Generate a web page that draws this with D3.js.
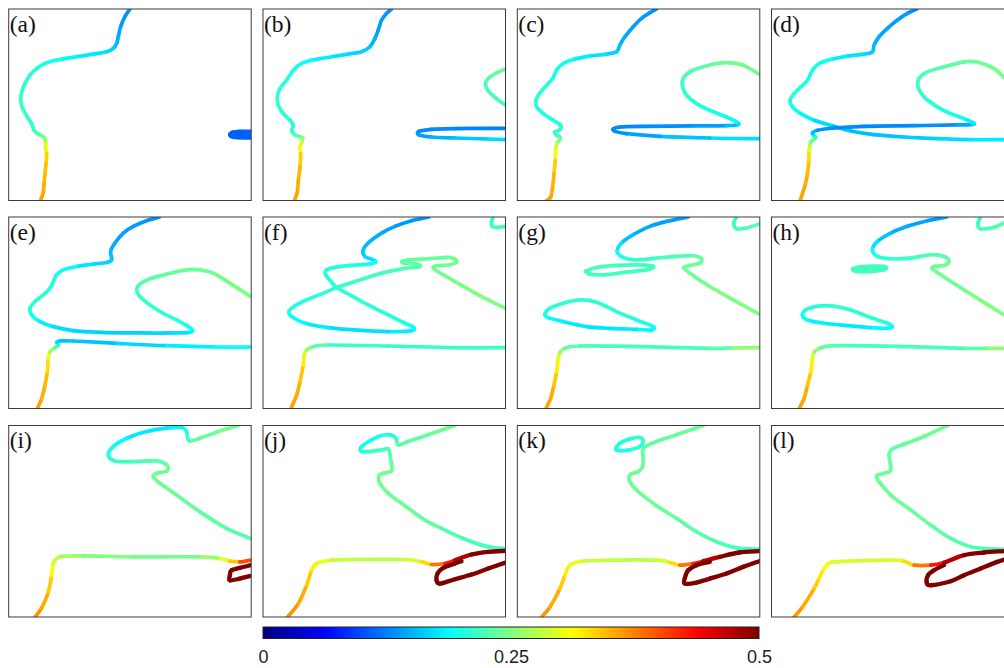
<!DOCTYPE html>
<html><head><meta charset="utf-8">
<script src="https://cdn.jsdelivr.net/npm/d3@7"></script>
<style>
html,body{margin:0;padding:0;background:#fff;}
svg{display:block;}
</style></head><body>
<svg id="chart" width="1004" height="668"></svg>
<script>
// every point is [x, y, value]; x runs 0..728 and y 0..573 (top down) inside a panel
const a_main = [[364,0,.135],[349,23,.135],[336,53,.14],[329,83,.145],[324,103,.15],[314,118,.16],[294,128,.17],[254,135,.175],[204,143,.18],[154,151,.19],[114,161,.2],[84,178,.205],[64,198,.21],[49,223,.21],[39,248,.21],[36,273,.215],[42,298,.215],[56,323,.21],[69,343,.21],[76,363,.215],[89,375,.22],[102,381,.235],[109,388,.25],[111,403,.28],[111,418,.31],[114,433,.33],[112,463,.34],[109,493,.345],[106,523,.35],[104,548,.355],[96,573,.36]];
const a_blob = [[728,366,.11],[694,366,.11],[672,369,.11],[664,376,.11],[672,383,.11],[694,385,.11],[728,386,.11]];

const b_main = [[386,0,.135],[371,13,.135],[356,33,.14],[346,63,.14],[336,88,.145],[321,113,.155],[296,128,.165],[256,135,.17],[206,143,.175],[146,153,.185],[116,163,.195],[91,183,.2],[71,213,.205],[51,238,.21],[43,263,.21],[46,288,.215],[61,313,.21],[81,333,.205],[91,348,.205],[86,363,.21],[94,375,.215],[106,381,.23],[119,386,.245],[116,398,.27],[111,413,.3],[113,433,.33],[111,473,.345],[106,513,.35],[103,548,.355],[94,573,.36]];
const b_hairpin = [[728,357,.125],[676,357,.125],[576,358,.13],[506,360,.13],[471,365,.13],[464,371,.135],[471,378,.14],[506,383,.145],[576,386,.155],[676,389,.165],[728,391,.175]];
const b_arc = [[728,180,.24],[701,191,.235],[676,208,.23],[668,225,.225],[676,245,.22],[701,268,.22],[728,288,.22]];

const c_main = [[418,0,.13],[398,11,.135],[373,28,.14],[348,53,.14],[323,83,.145],[308,108,.15],[298,128,.16],[268,135,.17],[218,141,.175],[168,151,.185],[138,163,.195],[118,183,.2],[106,208,.2],[88,228,.205],[68,251,.21],[56,273,.21],[58,293,.205],[78,313,.2],[108,333,.2],[130,348,.205],[128,361,.21],[113,368,.21],[116,376,.215],[128,383,.225],[126,393,.24],[118,405,.265],[115,423,.3],[114,453,.33],[110,493,.345],[106,533,.35],[100,563,.355],[88,573,.36]];
const c_hairpin = [[726,388,.18],[578,386,.165],[428,381,.15],[328,373,.135],[293,366,.13],[288,359,.13],[308,353,.13],[378,351,.13],[528,350,.135],[628,349,.145],[663,346,.165],[658,338,.18],[628,323,.195],[578,303,.2],[538,283,.205],[508,258,.21],[496,233,.215],[498,208,.22],[518,188,.225],[558,173,.23],[598,163,.235],[638,161,.24],[678,168,.24],[726,195,.245]];

const d_upper = [[436,0,.13],[408,13,.135],[378,33,.14],[348,58,.14],[323,83,.145],[308,108,.15],[303,128,.16],[278,135,.17],[228,141,.175],[178,151,.185],[143,163,.195],[123,183,.2],[108,213,.2],[88,233,.205],[68,253,.205],[56,273,.205],[63,293,.2],[88,313,.19],[128,333,.175],[188,351,.165],[238,365,.155],[308,376,.155],[398,383,.16],[498,388,.165],[598,391,.175],[698,391,.18],[728,391,.185]];
const d_lower = [[86,573,.36],[100,530,.355],[108,493,.35],[112,453,.34],[113,423,.32],[115,413,.29],[118,398,.255],[133,385,.225],[126,378,.195],[123,371,.165],[138,363,.14],[188,356,.13],[278,351,.13],[428,349,.13],[558,347,.135],[603,345,.155],[606,341,.17],[578,328,.19],[538,313,.2],[498,293,.205],[458,263,.21],[440,233,.215],[443,208,.22],[468,188,.225],[518,173,.23],[578,158,.235],[618,159,.24],[658,173,.24],[678,185,.245],[698,205,.245],[728,223,.25]];

const e_upper = [[452,0,.13],[414,11,.135],[374,28,.14],[344,48,.14],[319,78,.145],[306,103,.15],[309,128,.16],[294,136,.165],[254,141,.17],[204,148,.18],[164,158,.19],[144,173,.2],[134,193,.205],[124,213,.205],[104,233,.205],[79,253,.21],[64,273,.21],[69,293,.2],[94,313,.185],[134,328,.175],[194,340,.17],[274,345,.165],[394,347,.165],[494,347,.17],[544,345,.175],[552,339,.185],[539,328,.195],[504,308,.205],[464,288,.21],[424,263,.21],[394,238,.215],[384,218,.22],[394,201,.225],[424,185,.23],[474,171,.235],[534,158,.24],[574,158,.24],[614,168,.24],[664,198,.245],[726,238,.25]];
const e_lower = [[86,573,.36],[99,543,.355],[109,503,.35],[116,463,.34],[119,423,.32],[124,403,.28],[139,391,.245],[149,383,.21],[144,375,.18],[154,371,.16],[194,371,.155],[324,378,.16],[474,385,.175],[624,389,.185],[726,389,.19]];

const f_upper = [[498,0,.135],[446,11,.135],[396,28,.14],[356,48,.145],[321,73,.15],[301,98,.155],[306,118,.165],[331,128,.175],[338,135,.185],[316,141,.195],[266,145,.2],[216,151,.205],[191,158,.205],[188,173,.205],[206,195,.205],[221,211,.21],[266,236,.21],[316,263,.21],[376,293,.205],[426,318,.2],[452,330,.19],[446,340,.185],[376,343,.175],[276,338,.17],[196,331,.175],[126,318,.18],[86,298,.195],[78,283,.2],[93,268,.205],[126,250,.205],[176,230,.21],[221,211,.21],[276,193,.215],[356,168,.22],[416,155,.225],[466,150,.23],[471,144,.23],[456,140,.23],[421,138,.23],[418,133,.23],[436,129,.235],[496,125,.235],[556,121,.24],[576,126,.24],[581,135,.24],[561,143,.24],[521,146,.24],[511,151,.24],[521,161,.24],[576,193,.245],[656,238,.25],[728,273,.25]];
const f_lower = [[84,573,.36],[101,533,.355],[111,493,.35],[121,443,.33],[124,413,.31],[131,398,.275],[151,388,.24],[196,383,.22],[376,386,.21],[576,391,.215],[728,391,.22]];
const f_corner = [[691,0,.205],[686,13,.21],[688,28,.215],[706,31,.22],[728,28,.22]];

const g_upper = [[513,0,.135],[458,11,.14],[398,28,.145],[348,53,.15],[313,78,.165],[300,103,.185],[318,121,.205],[358,128,.21],[418,123,.22],[478,118,.225],[528,116,.23],[553,125,.235],[548,138,.24],[518,145,.24],[500,151,.24],[518,168,.24],[578,208,.245],[658,253,.25],[726,291,.25]];
const g_loop1 = [[208,161,.22],[238,151,.22],[298,145,.22],[358,143,.22],[403,146,.22],[408,151,.22],[388,158,.22],[328,165,.22],[258,173,.22],[218,171,.22],[206,163,.22],[208,161,.22]];
const g_loop2 = [[83,291,.195],[98,273,.205],[138,258,.21],[188,248,.21],[238,255,.21],[298,283,.21],[358,308,.205],[408,328,.2],[403,338,.19],[358,336,.18],[278,333,.175],[208,328,.175],[138,313,.18],[93,301,.19],[83,291,.195]];
const g_corner = [[658,0,.21],[650,18,.21],[658,35,.22],[688,33,.225],[726,21,.23]];
const g_lower = [[86,573,.36],[100,543,.355],[110,503,.35],[118,463,.33],[123,423,.31],[128,405,.275],[143,393,.24],[188,386,.225],[378,388,.22],[578,393,.225],[650,392,.24],[726,391,.275]];

const h_upper = [[526,0,.135],[468,11,.14],[408,28,.145],[358,48,.15],[318,73,.165],[303,98,.185],[318,118,.205],[358,125,.21],[418,123,.22],[478,113,.225],[518,118,.23],[533,133,.235],[518,145,.24],[488,148,.24],[483,155,.24],[508,173,.24],[578,218,.245],[658,268,.25],[698,293,.25],[728,308,.25]];
const h_blob = [[243,156,.22],[268,149,.22],[318,147,.22],[343,150,.22],[338,158,.22],[298,163,.22],[258,163,.22],[243,156,.22]];
const h_loop2 = [[93,293,.195],[108,275,.205],[148,266,.21],[188,267,.21],[238,278,.21],[298,301,.21],[348,318,.205],[363,328,.195],[348,333,.19],[298,331,.18],[228,325,.175],[158,318,.18],[108,308,.185],[93,293,.195]];
const h_corner = [[628,0,.21],[620,18,.21],[626,35,.22],[668,31,.225],[698,18,.23],[728,11,.235]];
const h_lower = [[83,573,.36],[98,543,.355],[108,503,.35],[118,463,.33],[123,423,.31],[128,405,.275],[148,391,.24],[198,385,.225],[378,387,.22],[578,393,.225],[650,393,.24],[728,393,.275]];

const i_upper = [[689,0,.245],[624,20,.24],[574,38,.235],[544,46,.23],[537,38,.22],[534,18,.205],[519,6,.19],[474,8,.18],[414,18,.175],[354,38,.18],[314,63,.19],[299,88,.2],[319,106,.21],[374,108,.22],[444,106,.23],[474,118,.235],[476,136,.24],[444,143,.24],[434,153,.24],[454,173,.24],[504,208,.24],[574,258,.235],[654,308,.23],[726,338,.225]];
const i_lower = [[79,573,.37],[99,546,.36],[119,498,.345],[129,448,.33],[134,413,.3],[154,393,.275],[224,390,.255],[374,393,.245],[574,393,.245],[634,398,.275],[664,406,.32],[694,408,.36],[726,403,.44]];
const i_red = [[726,418,.5],[694,426,.5],[669,433,.5],[664,448,.5],[664,463,.5],[694,458,.5],[726,450,.5]];

const j_upper = [[576,0,.24],[496,28,.235],[436,48,.23],[406,58,.23],[401,43,.22],[394,33,.21],[381,28,.205],[356,30,.2],[326,43,.195],[296,63,.195],[294,76,.2],[316,78,.21],[356,73,.22],[376,70,.225],[381,88,.23],[386,118,.235],[386,136,.24],[361,143,.24],[348,150,.24],[351,173,.24],[376,203,.24],[426,240,.24],[486,283,.235],[536,308,.23],[596,336,.225],[656,358,.22],[696,366,.22],[728,368,.22]];
const j_lower = [[74,573,.37],[106,533,.36],[131,478,.345],[146,433,.33],[161,413,.31],[206,403,.29],[276,401,.28],[426,401,.28],[476,408,.3],[506,416,.36],[546,413,.4],[576,403,.45],[626,386,.5],[676,378,.5],[728,375,.5]];
const j_red = [[728,410,.5],[676,428,.5],[626,446,.5],[576,460,.5],[531,473,.5],[521,463,.5],[524,443,.5],[541,426,.5],[576,413,.5],[596,406,.5]];

const k_upper = [[558,0,.24],[478,28,.235],[418,48,.235],[383,63,.23],[376,78,.23],[378,98,.235],[376,123,.24],[363,138,.24],[340,146,.24],[336,163,.24],[358,193,.24],[418,240,.24],[478,278,.235],[538,318,.23],[598,348,.225],[658,366,.22],[726,370,.22]];
const k_loop = [[296,70,.2],[308,53,.2],[338,40,.205],[368,36,.21],[378,46,.215],[368,63,.21],[338,73,.205],[308,75,.2],[296,70,.2]];
const k_lower = [[73,573,.37],[98,543,.36],[128,488,.345],[143,448,.33],[158,418,.31],[198,406,.29],[278,403,.28],[418,403,.28],[458,410,.3],[488,418,.36],[528,413,.4],[558,406,.45],[608,393,.5],[666,380,.5],[726,376,.5]];
const k_red = [[726,406,.5],[678,423,.5],[628,443,.5],[578,458,.5],[538,470,.5],[503,473,.5],[503,456,.5],[513,433,.5],[538,418,.5],[578,408,.5]];

const l_upper = [[528,0,.24],[458,33,.24],[398,56,.235],[363,70,.235],[353,88,.235],[358,133,.24],[338,143,.24],[316,150,.24],[323,168,.24],[358,208,.24],[418,253,.24],[478,298,.235],[538,338,.23],[598,363,.225],[668,370,.22],[728,370,.22]];
const l_lower = [[68,573,.37],[93,543,.36],[128,488,.345],[143,458,.33],[158,428,.315],[178,410,.3],[238,406,.29],[358,403,.29],[398,406,.3],[428,418,.36],[478,418,.4],[518,410,.45],[578,388,.5],[638,380,.5],[698,376,.5],[728,374,.5]];
const l_red = [[728,393,.5],[678,408,.5],[628,428,.5],[578,448,.5],[538,466,.5],[478,478,.5],[466,470,.5],[470,448,.5],[488,433,.5],[518,418,.5]];

const panelLabels = ['(a)','(b)','(c)','(d)','(e)','(f)','(g)','(h)','(i)','(j)','(k)','(l)'];
const panelCurves = [
  [a_main, a_blob],
  [b_main, b_hairpin, b_arc],
  [c_main, c_hairpin],
  [d_upper, d_lower],
  [e_upper, e_lower],
  [f_upper, f_lower, f_corner],
  [g_upper, g_loop1, g_loop2, g_corner, g_lower],
  [h_upper, h_blob, h_loop2, h_corner, h_lower],
  [i_upper, i_lower, i_red],
  [j_upper, j_lower, j_red],
  [k_upper, k_loop, k_lower, k_red],
  [l_upper, l_lower, l_red]
];
// thin loops that show up as solid blobs
const solidCurves = [a_blob, h_blob];
const colorTicks = [0, 0.25, 0.5];
const colorTickLabels = ['0', '0.25', '0.5'];

const colX = [8.7, 263, 517.3, 771.5];
const rowY = [9, 217, 425.5];
const panelW = 242.5, panelH = 191.5;

const svg = d3.select('#chart');
const defs = svg.append('defs');

// matlab style jet
function jet(t) {
  const c = v => Math.max(0, Math.min(1, v));
  const r = c(Math.min(4 * t - 1.5, -4 * t + 4.5));
  const g = c(Math.min(4 * t - 0.5, -4 * t + 3.5));
  const b = c(Math.min(4 * t + 0.5, -4 * t + 2.5));
  return d3.rgb(r * 255, g * 255, b * 255).formatHex();
}
const color = d3.scaleSequential(jet).domain([0, 0.5]);

const x = d3.scaleLinear().domain([0, 728]).range([0, panelW]);
const y = d3.scaleLinear().domain([0, 573]).range([0, panelH]);

// split a curve into short smooth pieces so every piece gets its own colour
function pieces(pts) {
  const P = pts.map(p => [x(p[0]), y(p[1]), p[2]]);
  const n = P.length;
  const closed = n > 3 && pts[0][0] === pts[n - 1][0] && pts[0][1] === pts[n - 1][1];
  const get = i => {
    if (closed) { const m = n - 1; return P[((i % m) + m) % m]; }
    return P[Math.max(0, Math.min(n - 1, i))];
  };
  const out = [];
  for (let i = 0; i < n - 1; i++) {
    const p0 = get(i - 1), p1 = P[i], p2 = P[i + 1], p3 = get(i + 2);
    const c1 = [p1[0] + (p2[0] - p0[0]) / 6, p1[1] + (p2[1] - p0[1]) / 6];
    const c2 = [p2[0] - (p3[0] - p1[0]) / 6, p2[1] - (p3[1] - p1[1]) / 6];
    out.push({
      d: `M${p1[0]},${p1[1]}C${c1[0]},${c1[1]} ${c2[0]},${c2[1]} ${p2[0]},${p2[1]}`,
      v: (p1[2] + p2[2]) / 2
    });
  }
  return out;
}

panelLabels.forEach((label, k) => {
  const px = colX[k % 4], py = rowY[Math.floor(k / 4)];
  const g = svg.append('g').attr('transform', `translate(${px},${py})`);

  defs.append('clipPath').attr('id', 'clip' + k)
    .append('rect').attr('width', panelW).attr('height', panelH);

  const plot = g.append('g').attr('clip-path', `url(#clip${k})`);
  panelCurves[k].forEach(curve => {
    if (solidCurves.includes(curve)) {
      plot.append('path')
        .attr('d', d3.line().x(p => x(p[0])).y(p => y(p[1])).curve(d3.curveCatmullRom)(curve))
        .attr('fill', color(curve[0][2]))
        .attr('stroke', 'none');
    }
    plot.append('g').selectAll('path')
      .data(pieces(curve))
      .join('path')
      .attr('d', d => d.d)
      .attr('fill', 'none')
      .attr('stroke', d => color(d.v))
      .attr('stroke-width', d => d.v >= 0.47 ? 4.3 : 3.7)
      .attr('stroke-linecap', 'round')
      .attr('stroke-linejoin', 'round');
  });

  g.append('rect')
    .attr('width', panelW).attr('height', panelH)
    .attr('fill', 'none').attr('stroke', '#3a3a3a').attr('stroke-width', 1);

  g.append('text')
    .attr('x', 1).attr('y', 22.5)
    .attr('font-family', '"Liberation Serif", "DejaVu Serif", serif')
    .attr('font-size', 23.5)
    .attr('fill', '#111')
    .text(label);
});

// ── colorbar ──────────────────────────────
const cbX = d3.scaleLinear().domain([0, 0.5]).range([263, 759]);
const cbY = 627, cbH = 11.5;
const grad = defs.append('linearGradient').attr('id', 'jetgrad')
  .attr('x1', '0%').attr('x2', '100%').attr('y1', '0%').attr('y2', '0%');
d3.range(0, 1.0001, 0.02).forEach(t => {
  grad.append('stop').attr('offset', (t * 100) + '%').attr('stop-color', color(t * 0.5));
});
svg.append('rect')
  .attr('x', cbX(0)).attr('y', cbY)
  .attr('width', cbX(0.5) - cbX(0)).attr('height', cbH)
  .attr('fill', 'url(#jetgrad)')
  .attr('stroke', '#222').attr('stroke-width', 1);

const cbAxis = d3.axisBottom(cbX).tickValues(colorTicks)
  .tickFormat((d, i) => colorTickLabels[i]).tickSize(0).tickPadding(12);
svg.append('g')
  .attr('transform', `translate(0,${cbY + cbH})`)
  .call(cbAxis)
  .call(s => s.select('.domain').remove())
  .call(s => s.selectAll('text')
    .attr('font-family', '"Liberation Sans", Arial, sans-serif')
    .attr('font-size', 18)
    .attr('fill', '#222'));
</script>
</body></html>
